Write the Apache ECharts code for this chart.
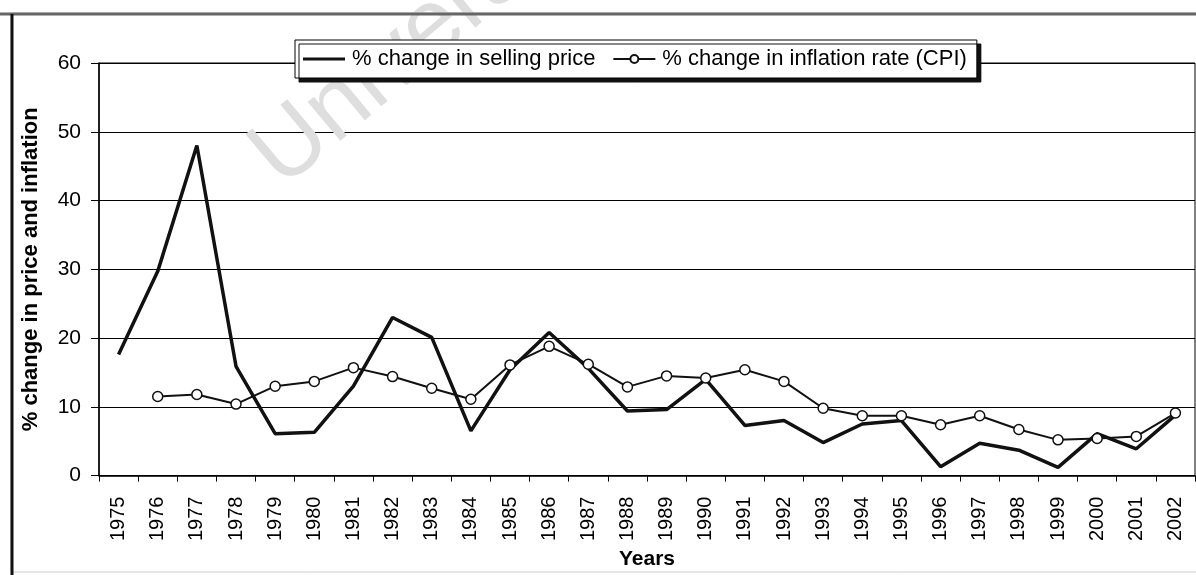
<!DOCTYPE html>
<html>
<head>
<meta charset="utf-8">
<script src="https://cdn.jsdelivr.net/npm/echarts@6/dist/echarts.min.js"></script>
<style>
  html, body { margin: 0; padding: 0; background: #fff; }
  #main { width: 1196px; height: 575px; }
</style>
</head>
<body>
<div id="main"></div>
<script>
var years = ['1975','1976','1977','1978','1979','1980','1981','1982','1983','1984',
             '1985','1986','1987','1988','1989','1990','1991','1992','1993','1994',
             '1995','1996','1997','1998','1999','2000','2001','2002'];
var sellingPrice = [17.6, 29.7, 48.0, 15.9, 6.1, 6.3, 13.0, 23.0, 20.1, 6.5,
                    15.4, 20.8, 15.6, 9.4, 9.6, 14.0, 7.3, 8.0, 4.8, 7.5,
                    8.0, 1.3, 4.7, 3.7, 1.2, 6.1, 3.9, 8.8];
var inflationCPI = [null, 11.5, 11.8, 10.4, 13.0, 13.7, 15.7, 14.4, 12.7, 11.1,
                    16.1, 18.8, 16.2, 12.9, 14.5, 14.2, 15.4, 13.7, 9.8, 8.7,
                    8.7, 7.4, 8.7, 6.7, 5.2, 5.4, 5.7, 9.1];
var yTicks = { min: 0, max: 60, interval: 10 };

var myChart = echarts.init(document.getElementById('main'));
var font = 'Arial, "Liberation Sans", sans-serif';

var option = {
    backgroundColor: '#fff',
    animation: false,
    textStyle: { fontFamily: font },
    graphic: [
        // watermark from the scanned page
        {
            type: 'text', x: 296, y: 206, rotation: Math.PI * 40 / 180, z: 1,
            style: { text: 'University', fontSize: 96, fontFamily: font, fill: '#dedede',
                     align: 'left', verticalAlign: 'bottom' }
        },
        // outer frame
        { type: 'rect', shape: { x: 11, y: 13, width: 1190, height: 559 }, z: 0,
          style: { fill: 'none', stroke: '#ccc', lineWidth: 1 } },
        { type: 'line', shape: { x1: 0, y1: 14, x2: 1196, y2: 14 }, z: 1,
          style: { stroke: '#666', lineWidth: 3 } },
        { type: 'line', shape: { x1: 12, y1: 14, x2: 12, y2: 575 }, z: 1,
          style: { stroke: '#111', lineWidth: 3 } }
    ],
    legend: {
        left: 295,
        top: 40,
        padding: [8, 10, 8, 8],
        itemGap: 17,
        itemWidth: 42,
        itemHeight: 10,
        backgroundColor: '#fff',
        borderColor: '#000',
        borderWidth: 1,
        shadowColor: '#111',
        shadowBlur: 0.1,
        shadowOffsetX: 4,
        shadowOffsetY: 4,
        textStyle: { fontSize: 22, color: '#000', fontFamily: font, padding: [0, 0, 0, 2] },
        data: [
            { name: '% change in selling price', icon: 'path://M0,0H42V3H0Z' },
            { name: '% change in inflation rate (CPI)' }
        ]
    },
    grid: {
        left: 99, top: 63, right: 1, bottom: 97,
        show: true, borderColor: '#000', borderWidth: 1, backgroundColor: 'transparent'
    },
    xAxis: {
        type: 'category',
        data: years,
        boundaryGap: true,
        name: 'Years',
        nameLocation: 'middle',
        nameGap: 72,
        nameTextStyle: { fontSize: 21, fontWeight: 'bold', color: '#000', fontFamily: font },
        axisLine: { lineStyle: { color: '#000', width: 1.5 } },
        axisTick: { show: true, alignWithLabel: false, length: 6, lineStyle: { color: '#000' } },
        axisLabel: { rotate: 90, fontSize: 20, color: '#000', margin: 21, fontFamily: font }
    },
    yAxis: {
        type: 'value',
        min: yTicks.min,
        max: yTicks.max,
        interval: yTicks.interval,
        name: '% change in price and inflation',
        nameLocation: 'middle',
        nameGap: 57,
        nameTextStyle: { fontSize: 22, fontWeight: 'bold', color: '#000', fontFamily: font },
        axisLine: { show: true, lineStyle: { color: '#000', width: 1.5 } },
        axisTick: { show: true, length: 8, lineStyle: { color: '#000' } },
        axisLabel: { fontSize: 21, color: '#000', margin: 18, fontFamily: font },
        splitLine: { show: true, lineStyle: { color: '#000', width: 1 } }
    },
    series: [
        {
            name: '% change in selling price',
            type: 'line',
            data: sellingPrice,
            symbol: 'none',
            lineStyle: { color: '#111', width: 3.5 },
            itemStyle: { color: '#111' },
            z: 3
        },
        {
            name: '% change in inflation rate (CPI)',
            type: 'line',
            data: inflationCPI,
            symbol: 'circle',
            symbolSize: 10,
            showAllSymbol: true,
            lineStyle: { color: '#111', width: 2 },
            itemStyle: { color: '#fff', borderColor: '#111', borderWidth: 1.5 },
            z: 4
        }
    ]
};

myChart.setOption(option);
</script>
</body>
</html>
